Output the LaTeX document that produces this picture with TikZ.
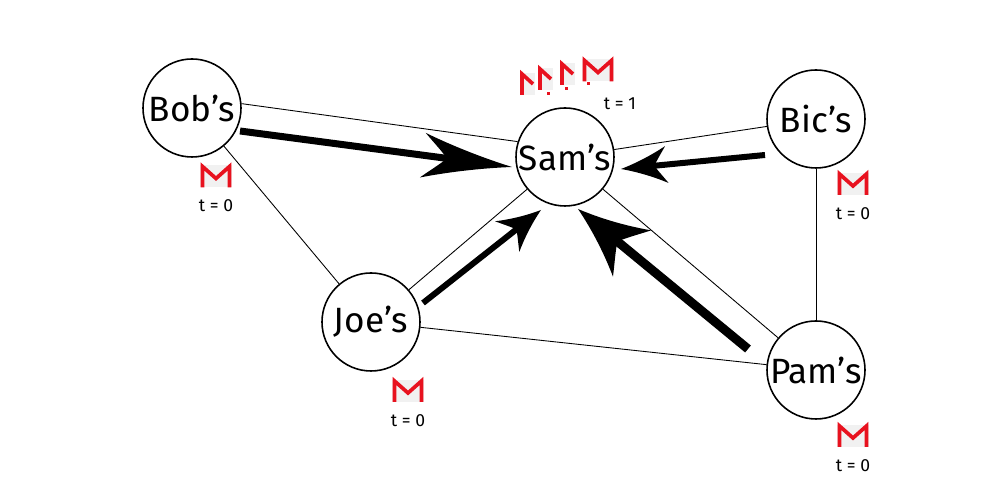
\documentclass[tikz,border=0pt]{standalone}
\usepackage{fontspec}
\setmainfont{Fira Sans}
\usetikzlibrary{arrows.meta}

\definecolor{mailRed}{HTML}{E8121F}
\definecolor{mailBack}{HTML}{F1F1F1}

\pgfdeclarearrow{
    name=Swoop,
    defaults={length=4cm, width=2cm},
    parameters={\the\pgfarrowlength,\the\pgfarrowwidth},
    setup code={
        \pgfarrowssettipend{\pgfarrowlength}
        \pgfarrowssetlineend{.3\pgfarrowlength}
        \pgfarrowssetbackend{0pt}
        \pgfarrowssetvisualbackend{.25\pgfarrowlength}
        \pgfarrowshullpoint{\pgfarrowlength}{0pt}
        \pgfarrowshullpoint{0pt}{.5\pgfarrowwidth}
        \pgfarrowshullpoint{0pt}{-.5\pgfarrowwidth}
        \pgfarrowssavethe\pgfarrowlength
        \pgfarrowssavethe\pgfarrowwidth
    },
    drawing code={
        \pgfpathmoveto{\pgfqpoint{\pgfarrowlength}{0pt}}
        \pgfpathcurveto{\pgfqpoint{.65\pgfarrowlength}{.12\pgfarrowwidth}}{\pgfqpoint{.3\pgfarrowlength}{.3\pgfarrowwidth}}{\pgfqpoint{0pt}{.5\pgfarrowwidth}}
        \pgfpathcurveto{\pgfqpoint{.08\pgfarrowlength}{.35\pgfarrowwidth}}{\pgfqpoint{.22\pgfarrowlength}{.12\pgfarrowwidth}}{\pgfqpoint{.27\pgfarrowlength}{0pt}}
        \pgfpathcurveto{\pgfqpoint{.22\pgfarrowlength}{-.12\pgfarrowwidth}}{\pgfqpoint{.08\pgfarrowlength}{-.35\pgfarrowwidth}}{\pgfqpoint{0pt}{-.5\pgfarrowwidth}}
        \pgfpathcurveto{\pgfqpoint{.3\pgfarrowlength}{-.3\pgfarrowwidth}}{\pgfqpoint{.65\pgfarrowlength}{-.12\pgfarrowwidth}}{\pgfqpoint{\pgfarrowlength}{0pt}}
        \pgfpathclose
        \pgfusepathqfill
    }
}

\begin{document}
\begin{tikzpicture}[
    shop/.style={circle, draw, line width=0.9pt, minimum size=1.96cm, inner sep=0pt, font=\fontsize{20}{20}\selectfont},
    link/.style={line width=0.5pt},
    stamp/.style={inner sep=0pt, font=\fontsize{10}{10}\selectfont},
    mail/.pic={
        \fill[mailBack] (-0.32, -0.22) rectangle (0.32, 0.22);
        \draw[mailRed, line width=2.1pt] (-0.27, -0.22) -- (-0.27, 0.2) -- (0, -0.04) -- (0.27, 0.2) -- (0.27, -0.22);
    },
    mailcut/.pic={
        \fill[mailBack] (-0.32, -0.22) rectangle (-0.02, 0.22);
        \draw[mailRed, line width=2.1pt] (-0.27, -0.22) -- (-0.27, 0.2) -- (-0.05, 0);
        \fill[mailRed] (0.22, -0.23) rectangle (0.28, -0.17);
    },
    ]
    \useasboundingbox (0, 0) rectangle (20, 10);

    \node[shop] (bob) at (3.84, 7.84) {Bob’s};
    \node[shop] (sam) at (11.30, 6.86) {Sam’s};
    \node[shop] (bic) at (16.32, 7.62) {Bic’s};
    \node[shop] (joe) at (7.42, 3.56) {Joe’s};
    \node[shop] (pam) at (16.32, 2.60) {Pam’s};

    \draw[link] (bob.5) -- (sam.162);
    \draw[link] (bob) -- (joe);
    \draw[link] (joe) -- (sam);
    \draw[link] (joe) -- (pam);
    \draw[link] (sam) -- (bic);
    \draw[link] (sam) -- (pam);
    \draw[link] (bic) -- (pam);

    \coordinate (bobStart) at (4.80, 7.38);
    \coordinate (bobTip) at (10.24, 6.66);
    \coordinate (bicStart) at (15.30, 6.90);
    \coordinate (bicTip) at (12.42, 6.62);
    \coordinate (joeStart) at (8.46, 3.94);
    \coordinate (joeTip) at (10.82, 5.80);
    \coordinate (pamStart) at (14.96, 3.02);
    \coordinate (pamTip) at (11.56, 5.82);

    \draw[line width=0.14cm, -{Swoop[length=1.8cm, width=0.9cm]}] (bobStart) -- (bobTip);
    \draw[line width=0.12cm, -{Swoop[length=0.92cm, width=0.74cm]}] (bicStart) -- (bicTip);
    \draw[line width=0.12cm, -{Swoop[length=0.86cm, width=0.78cm]}] (joeStart) -- (joeTip);
    \draw[line width=0.18cm, -{Swoop[length=1.4cm, width=1.2cm]}] (pamStart) -- (pamTip);

    \pic at (4.32, 6.47) {mail};
    \pic at (17.06, 6.32) {mail};
    \pic at (8.16, 2.18) {mail};
    \pic at (17.06, 1.28) {mail};
    \pic at (10.71, 8.32) {mailcut};
    \pic at (11.07, 8.42) {mailcut};
    \pic at (11.51, 8.52) {mailcut};
    \pic at (11.96, 8.59) {mail};

    \node[stamp] (tBob) at (4.32, 5.88) {t = 0};
    \node[stamp] (tBic) at (17.06, 5.72) {t = 0};
    \node[stamp] (tJoe) at (8.16, 1.58) {t = 0};
    \node[stamp] (tPam) at (17.06, 0.68) {t = 0};
    \node[stamp] (tSam) at (12.40, 7.92) {t = 1};
\end{tikzpicture}
\end{document}
